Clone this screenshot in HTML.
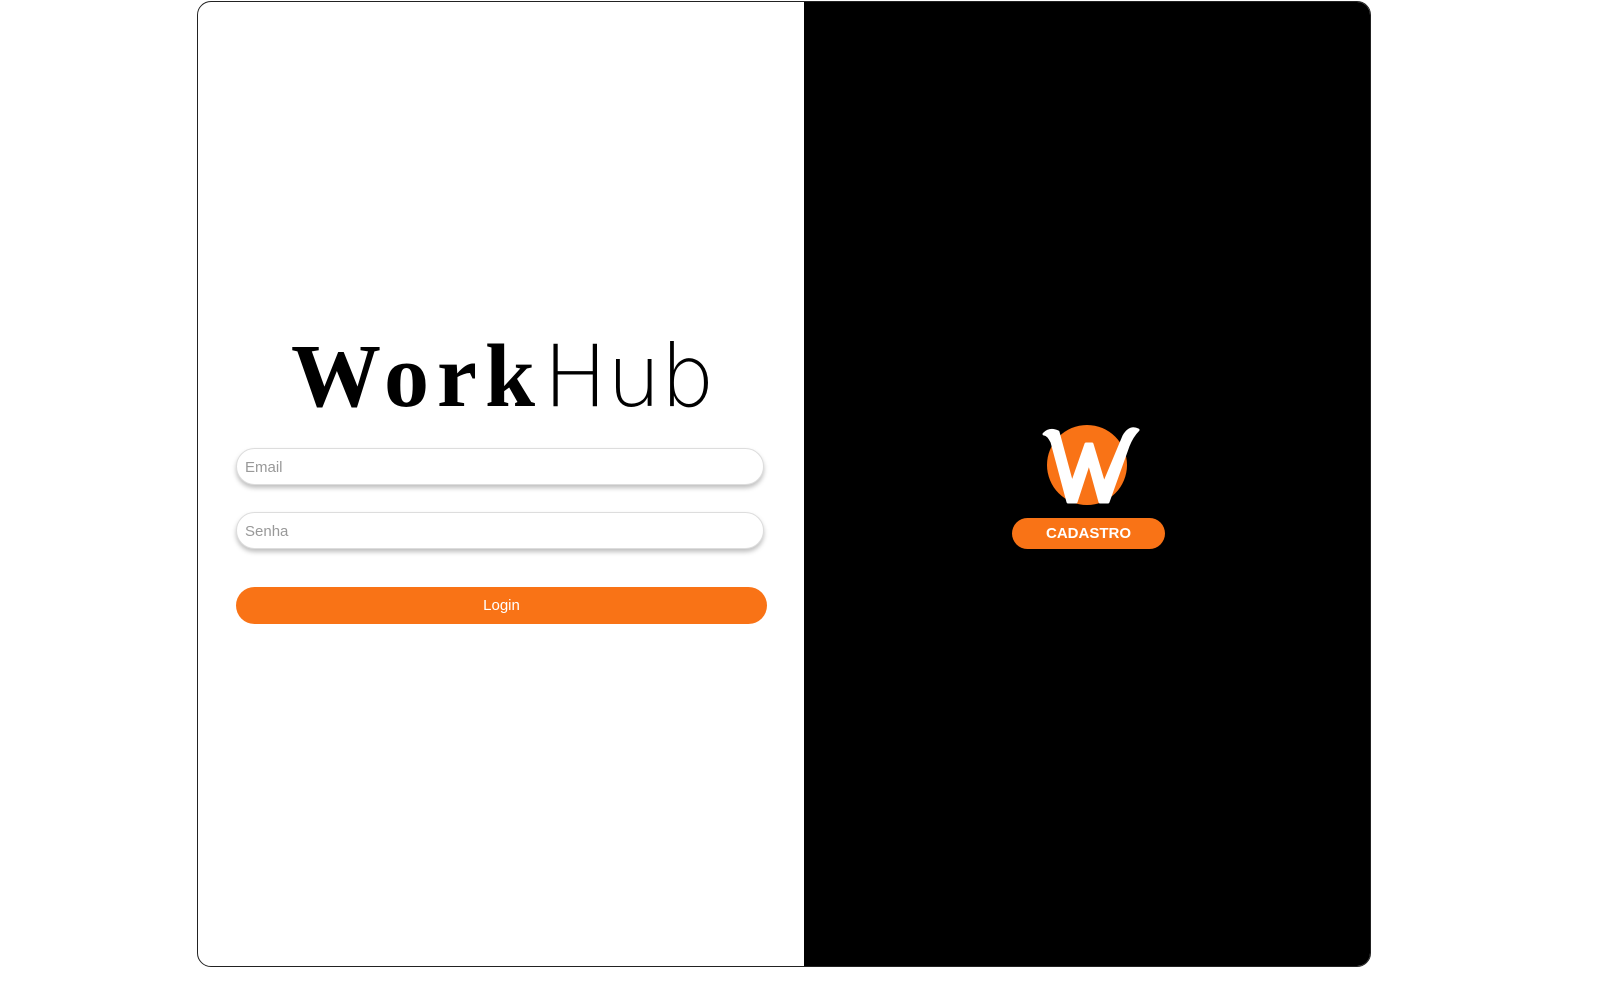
<!DOCTYPE html>
<html><head><meta charset="utf-8"><style>
html,body{margin:0;padding:0;background:#fff;width:1600px;height:987px;overflow:hidden;font-family:"Liberation Sans",sans-serif}
.card{position:absolute;left:197px;top:1px;width:1172px;height:964px;border:1px solid #222;border-radius:14px;overflow:hidden;background:#fff}
.right{position:absolute;left:606px;top:0;width:570px;height:100%;background:#000}
.logo{position:absolute;left:93px;top:324px;font-size:90px;line-height:100px;white-space:nowrap;color:#000}
.logo .w{font-family:"Liberation Serif",serif;font-weight:bold;letter-spacing:8px}
.logo .h{font-family:"DejaVu Sans",sans-serif;font-weight:200;font-size:86px;letter-spacing:-1px}
.inp{position:absolute;left:38px;width:528px;height:37px;border:1px solid #ddd;border-radius:20px;box-shadow:0 3px 5px rgba(0,0,0,.25);background:#fff;color:#999;font-size:15px;line-height:37px;padding-left:8px;box-sizing:border-box}
.btn{position:absolute;background:#f97316;color:#fff;text-align:center;border-radius:20px}
</style></head><body>
<div class="card">
 <div class="logo"><span class="w">Work</span><span class="h">Hub</span></div>
 <div class="inp" style="top:446px">Email</div>
 <div class="inp" style="top:510px">Senha</div>
 <div class="btn" style="left:38px;top:585px;width:531px;height:37px;line-height:37px;font-size:15px">Login</div>
 <div class="right">
  <svg style="position:absolute;left:236px;top:420px" width="100" height="90" viewBox="0 0 100 90">
   <circle cx="47" cy="43" r="40" fill="#f97316"/>
   <path d="M4 12 Q10 6 18 10 L32 62 L46 22 L52 22 L64 62 L84 14 Q90 4 98 8 Q92 14 88 24 L68 80 L60 80 L49 40 L36 80 L28 80 L12 20 Q8 12 4 12 Z" fill="#fff" stroke="#fff" stroke-width="3" stroke-linejoin="round"/>
  </svg>
  <div class="btn" style="left:208px;top:516px;width:153px;height:31px;line-height:31px;font-size:15px;font-weight:600">CADASTRO</div>
 </div>
</div>
</body></html>
